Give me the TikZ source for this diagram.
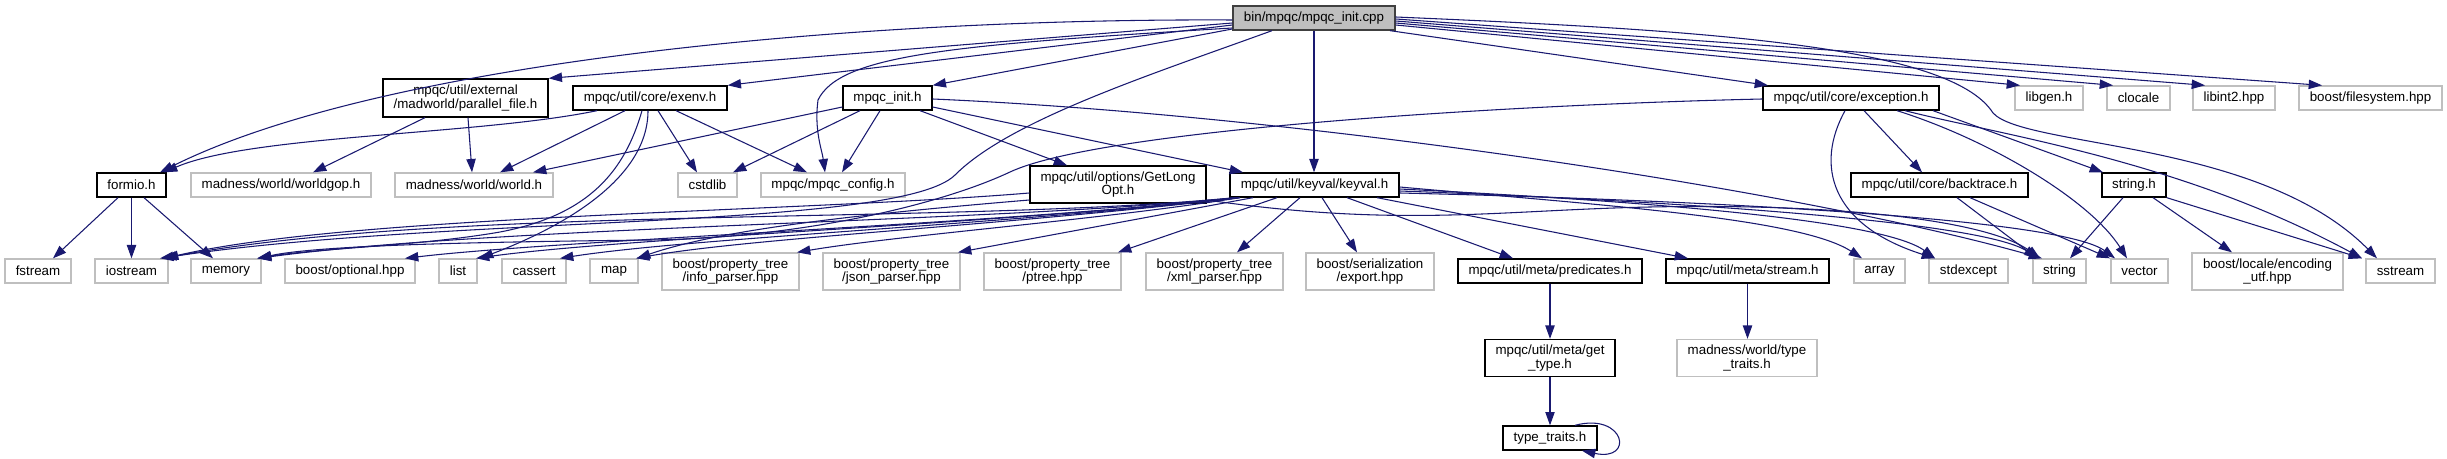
\documentclass[tikz,border=0pt]{standalone}
\usepackage{fontspec}
\setmainfont{Liberation Sans}
\usetikzlibrary{arrows.meta}
\definecolor{edgec}{HTML}{191970}
\definecolor{gborder}{HTML}{BFBFBF}
\definecolor{rootfill}{HTML}{BFBFBF}
\definecolor{rootborder}{HTML}{404040}
\begin{document}
\begin{tikzpicture}[x=0.75pt,y=-0.75pt,
  base/.style={inner sep=0pt, align=center, font=\fontsize{10}{10}\selectfont, line width=1pt},
  doc/.style={base, draw=black, fill=white},
  ext/.style={base, draw=gborder, fill=white},
  root/.style={base, draw=rootborder, fill=rootfill},
  sz/.style 2 args={minimum width=#1*0.75pt, minimum height=#2*0.75pt},
  e/.style={draw=edgec, line width=0.8pt, -{Triangle[length=10pt,width=7pt]}}]
\useasboundingbox (0,0) rectangle (2447,459);
% row 0
\node[root, sz={162}{24}] (cpp) at (1314,18) {bin/mpqc/mpqc\_init.cpp};
% row 1
\node[doc, sz={165}{38}] (par) at (465.5,98) {mpqc/util/external\\/madworld/parallel\_file.h};
\node[doc, sz={154}{24}] (exenv) at (650,98) {mpqc/util/core/exenv.h};
\node[doc, sz={89}{24}] (init) at (887.5,98) {mpqc\_init.h};
\node[doc, sz={176}{24}] (exc) at (1851,98) {mpqc/util/core/exception.h};
\node[ext, sz={68}{24}] (libgen) at (2049,98) {libgen.h};
\node[ext, sz={63}{24}] (clocale) at (2138.5,98) {clocale};
\node[ext, sz={82}{24}] (libint) at (2234,98) {libint2.hpp};
\node[ext, sz={143}{24}] (fs) at (2370.5,98) {boost/filesystem.hpp};
% row 2
\node[doc, sz={69}{24}] (formio) at (131.5,185) {formio.h};
\node[ext, sz={180}{24}] (worldgop) at (281,185) {madness/world/worldgop.h};
\node[ext, sz={158}{24}] (world) at (474,185) {madness/world/world.h};
\node[ext, sz={59}{24}] (cstdlib) at (707.5,185) {cstdlib};
\node[ext, sz={144}{24}] (config) at (833,185) {mpqc/mpqc\_config.h};
\node[doc, sz={176}{37}] (getlong) at (1118,184.5) {mpqc/util/options/GetLong\\Opt.h};
\node[doc, sz={169}{24}] (keyval) at (1314.5,185) {mpqc/util/keyval/keyval.h};
\node[doc, sz={177}{24}] (backtrace) at (1939.5,185) {mpqc/util/core/backtrace.h};
\node[doc, sz={64}{24}] (strh) at (2134,185) {string.h};
% row 3
\node[ext, sz={66}{24}] (fstream) at (38,271) {fstream};
\node[ext, sz={73}{24}] (iostream) at (131.5,271) {iostream};
\node[ext, sz={70}{24}] (memory) at (226,271) {memory};
\node[ext, sz={130}{24}] (optional) at (350,271) {boost/optional.hpp};
\node[ext, sz={38}{24}] (list) at (458,271) {list};
\node[ext, sz={64}{24}] (cassert) at (534,271) {cassert};
\node[ext, sz={48}{24}] (map) at (614,271) {map};
\node[ext, sz={137}{37}] (info) at (730.5,271.5) {boost/property\_tree\\/info\_parser.hpp};
\node[ext, sz={137}{37}] (json) at (891.5,271.5) {boost/property\_tree\\/json\_parser.hpp};
\node[ext, sz={137}{37}] (ptree) at (1052.5,271.5) {boost/property\_tree\\/ptree.hpp};
\node[ext, sz={137}{37}] (xml) at (1214.5,271.5) {boost/property\_tree\\/xml\_parser.hpp};
\node[ext, sz={128}{37}] (export) at (1370,271.5) {boost/serialization\\/export.hpp};
\node[doc, sz={184}{24}] (pred) at (1550,271) {mpqc/util/meta/predicates.h};
\node[doc, sz={163}{24}] (stream) at (1747.5,271) {mpqc/util/meta/stream.h};
\node[ext, sz={51}{24}] (array) at (1879.5,271) {array};
\node[ext, sz={79}{24}] (stdexcept) at (1968.5,271) {stdexcept};
\node[ext, sz={53}{24}] (string) at (2059.5,271) {string};
\node[ext, sz={57}{24}] (vector) at (2139.5,271) {vector};
\node[ext, sz={151}{37}] (locale) at (2267.5,271.5) {boost/locale/encoding\\\_utf.hpp};
\node[ext, sz={69}{24}] (sstream) at (2400.5,271) {sstream};
% row 4, 5
\node[doc, sz={130}{37}] (gettype) at (1550,358) {mpqc/util/meta/get\\\_type.h};
\node[ext, sz={140}{37}] (mtt) at (1747,358) {madness/world/type\\\_traits.h};
\node[doc, sz={94}{24}] (tt) at (1550,438) {type\_traits.h};

% edges from cpp
\draw[e] (cpp.west |- 0,20) .. controls (850,18) and (380,62) .. (formio.north -| 160,0);
\draw[e] (cpp.west |- 0,23) -- (par.north east);
\draw[e] (cpp.west |- 0,25) -- (exenv.north east);
\draw[e] (cpp.west |- 0,28) .. controls (950,45) and (840,55) .. (818,100) .. controls (814,130) and (822,150) .. (config.north -| 825,0);
\draw[e] (cpp.west |- 0,29) -- (init.north east);
\draw[e] (cpp.south) -- (cpp.south |- keyval.north);
\draw[e] (cpp.south -| 1272,0) .. controls (1150,75) and (1010,120) .. (955,175) .. controls (900,230) and (450,215) .. (iostream.north -| 160,0);
\draw[e] (cpp.south -| 1390,0) -- (exc.north -| 1768,0);
\draw[e] (cpp.east |- 0,17) .. controls (1700,30) and (1950,45) .. (1993,113) .. controls (2025,148) and (2260,140) .. (sstream.north -| 2377,0);
\draw[e] (cpp.east |- 0,19) -- (fs.north -| 2322,0);
\draw[e] (cpp.east |- 0,21) -- (libint.north -| 2205,0);
\draw[e] (cpp.east |- 0,23) -- (clocale.north -| 2113,0);
\draw[e] (cpp.east |- 0,25) -- (libgen.north -| 2020,0);

% formio
\draw[e] (formio.south -| 118,0) -- (fstream.north -| 53,0);
\draw[e] (formio.south) -- (iostream.north);
\draw[e] (formio.south -| 144,0) -- (memory.north -| 213,0);

% parallel_file
\draw[e] (par.south -| 425,0) -- (worldgop.north -| 313,0);
\draw[e] (par.south -| 468,0) -- (world.north -| 472,0);

% exenv
\draw[e] (exenv.south -| 597,0) .. controls (480,135) and (250,135) .. (formio.north -| 164,0);
\draw[e] (exenv.south -| 625,0) -- (world.north -| 500,0);
\draw[e] (exenv.south -| 658,0) -- (cstdlib.north -| 697,0);
\draw[e] (exenv.south -| 676,0) -- (config.north -| 807,0);
\draw[e] (exenv.south -| 642,0) .. controls (625,170) and (590,215) .. (500,232) .. controls (420,246) and (320,248) .. (memory.north -| 257,0);
\draw[e] (exenv.south -| 648,0) .. controls (648,180) and (560,228) .. (list.north -| 480,0);

% mpqc_init.h
\draw[e] (init.west |- 0,107) -- (world.north -| 533,0);
\draw[e] (init.south -| 860,0) -- (cstdlib.north -| 733,0);
\draw[e] (init.south -| 880,0) -- (config.north -| 842,0);
\draw[e] (init.south -| 920,0) -- (getlong.north -| 1067,0);
\draw[e] (init.east |- 0,107) -- (keyval.north -| 1243,0);
\draw[e] (init.east |- 0,99) .. controls (1300,115) and (1800,190) .. (string.north -| 2042,0);

% exception
\draw[e] (exc.south -| 1864,0) -- (backtrace.north -| 1922,0);
\draw[e] (exc.south -| 1845,0) .. controls (1815,165) and (1830,225) .. (stdexcept.north -| 1935,0);
\draw[e] (exc.south -| 1933,0) -- (strh.north -| 2103,0);
\draw[e] (exc.south -| 1897,0) .. controls (1990,140) and (2090,200) .. (vector.north -| 2127,0);
\draw[e] (exc.south -| 1905,0) .. controls (2000,135) and (2180,160) .. (sstream.north -| 2362,0);
\draw[e] (exc.west |- 0,99) .. controls (1500,105) and (1100,130) .. (1010,172) .. controls (940,205) and (800,238) .. (650,240) .. controls (480,242) and (320,245) .. (memory.north -| 258,0);

% backtrace, string.h
\draw[e] (backtrace.south -| 1957,0) -- (string.north -| 2037,0);
\draw[e] (backtrace.south -| 1970,0) -- (vector.north -| 2110,0);
\draw[e] (strh.south -| 2123,0) -- (string.north -| 2070,0);
\draw[e] (strh.south -| 2153,0) -- (locale.north -| 2232,0);
\draw[e] (strh.south east) -- (sstream.north -| 2362,0);

% keyval
\draw[e] (keyval.south -| 1300,0) -- (xml.north -| 1237,0);
\draw[e] (keyval.south -| 1322,0) -- (export.north -| 1357,0);
\draw[e] (keyval.south -| 1347,0) -- (pred.north -| 1513,0);
\draw[e] (keyval.south -| 1377,0) -- (stream.north -| 1688,0);
\draw[e] (keyval.south -| 1277,0) -- (ptree.north -| 1118,0);
\draw[e] (keyval.south -| 1253,0) -- (json.north -| 958,0);
\draw[e] (keyval.south -| 1240,0) .. controls (1100,220) and (900,235) .. (info.north -| 797,0);
\draw[e] (keyval.south -| 1235,0) .. controls (950,225) and (450,205) .. (iostream.north -| 163,0);
\draw[e] (keyval.south -| 1236,0) .. controls (1000,222) and (500,226) .. (memory.north -| 258,0);
\draw[e] (keyval.south -| 1237,0) .. controls (1000,224) and (560,240) .. (optional.north -| 405,0);
\draw[e] (keyval.south -| 1238,0) .. controls (1000,224) and (620,238) .. (list.north -| 476,0);
\draw[e] (keyval.south -| 1239,0) .. controls (1000,225) and (690,238) .. (cassert.north -| 560,0);
\draw[e] (keyval.south -| 1240,0) .. controls (1000,226) and (750,238) .. (map.north -| 636,0);
\draw[e] (keyval.east |- 0,187) .. controls (1600,205) and (1800,218) .. (array.north -| 1862,0);
\draw[e] (keyval.east |- 0,189) .. controls (1620,200) and (1880,218) .. (stdexcept.north -| 1935,0);
\draw[e] (keyval.east |- 0,191) .. controls (1650,200) and (1980,220) .. (string.north -| 2038,0);
\draw[e] (keyval.east |- 0,193) .. controls (1700,200) and (2060,218) .. (vector.north -| 2115,0);

% GetLongOpt
\draw[e] (getlong.west |- 0,193) .. controls (800,212) and (350,215) .. (iostream.north -| 165,0);
\draw[e] (getlong.west |- 0,200) .. controls (850,215) and (720,230) .. (map.north -| 637,0);
\draw[e] (getlong.east |- 0,200) .. controls (1400,228) and (1500,210) .. (1650,207) .. controls (1850,203) and (1990,222) .. (string.north -| 2040,0);

% lower part
\draw[e] (pred.south) -- (gettype.north);
\draw[e] (gettype.south) -- (tt.north);
\draw[e] (stream.south) -- (stream.south |- mtt.north);
\draw[e] (tt.north -| 1575,0) .. controls (1625,412) and (1635,462) .. (tt.south -| 1582,0);
\end{tikzpicture}
\end{document}
